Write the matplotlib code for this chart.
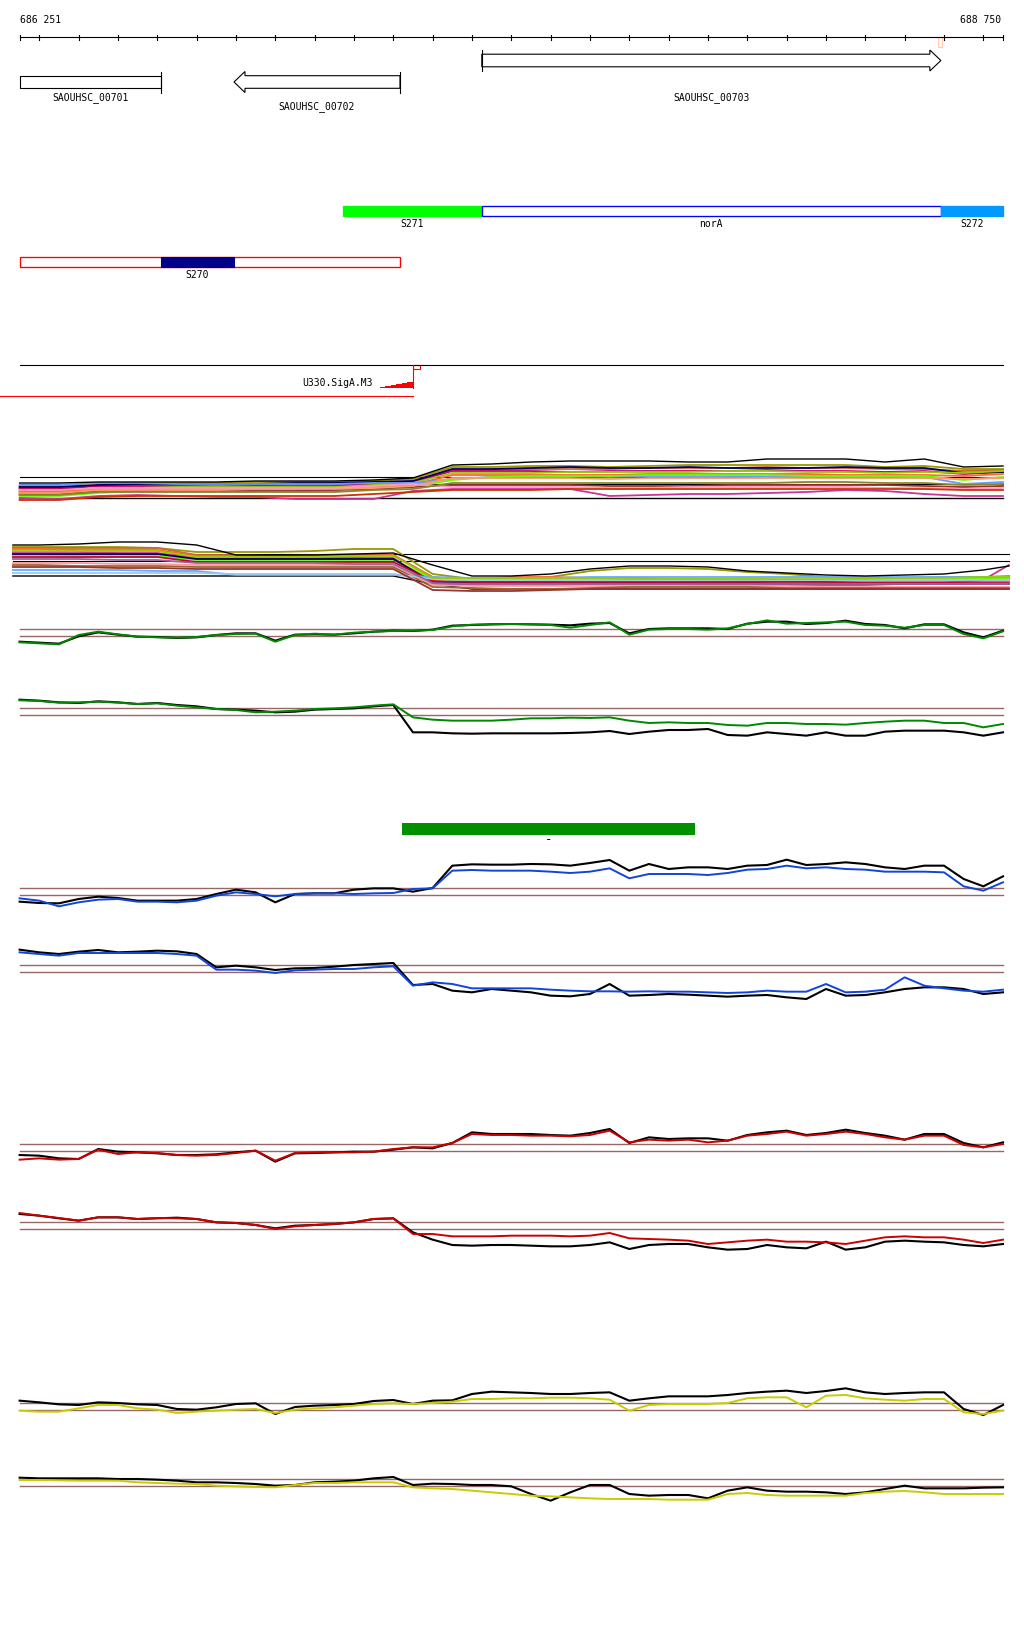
import matplotlib
matplotlib.use('Agg')
import matplotlib.pyplot as plt
from matplotlib.patches import Rectangle, Polygon

# ---- window ----
view_start = 686251
view_end = 688750
bp_per_px = (view_end - view_start) / 983.0
x_lo = view_start - 20 * bp_per_px
x_hi = view_start + 1004 * bp_per_px

# ---- genes ----
gene_names = ['SAOUHSC_00701', 'SAOUHSC_00702', 'SAOUHSC_00703']
gene_start = [686100, 686795, 687425]
gene_end = [686609, 687217, 688592]
gene_strand = [-1, -1, 1]

# ---- segments ----
seg_names = ['S271', 'norA', 'S272']
seg_start = [687072, 687425, 688592]
seg_end = [687425, 688592, 688750]
seg_fill = ['#00ff00', 'white', '#0099ff']
seg_edge = ['#00ff00', '#0000ff', '#0099ff']
s270_start, s270_end = 686251, 687217
s270_core = (686609, 686795)

# ---- promoter ----
prom_name = 'U330.SigA.M3'
prom_tss = 687250
motif_pos = [687151, 687165, 687179, 687194, 687208, 687222, 687236, 687250]
motif_score = [0.6, 1.6, 2.6, 3.6, 4.6, 5.6, 6.6]
region_bar = (687222, 687967)

# ---- profile grids ----
pos50 = list(range(686250, 688751, 50))
a_pos = list(range(686250, 688751, 100))
b_pos = [686233] + list(range(686300, 688701, 100)) + [688765]

g1_black = [-27,-30,-33,-11,1,-6,-12,-13,-16,-14,-7,-2,-2,-24,-6,-5,-6,-2,3,6,5,9,21,23,25,26,25,24,22,27,29,-2,11,13,13,13,11,27,33,33,26,29,36,26,23,13,25,25,1,-14,6]
g1_green = [-29,-32,-35,-7,3,-5,-12,-14,-15,-13,-7,-4,-3,-27,-7,-3,-6,0,3,5,6,8,19,24,25,26,25,23,15,23,31,-6,9,11,11,9,13,26,37,27,29,31,33,23,21,15,23,23,-4,-17,4]
g2_black = [34,31,26,24,29,26,21,24,18,14,6,4,1,-4,-2,4,6,8,14,18,-64,-64,-67,-68,-67,-67,-67,-67,-66,-64,-60,-69,-62,-57,-57,-54,-72,-74,-64,-69,-74,-64,-74,-74,-62,-59,-59,-59,-64,-74,-64]
g2_green = [32,30,25,26,28,25,21,23,16,11,6,3,-4,-2,1,6,8,11,16,20,-19,-26,-29,-29,-29,-26,-22,-22,-20,-21,-19,-29,-36,-34,-36,-36,-42,-44,-36,-36,-39,-39,-41,-36,-32,-29,-29,-36,-36,-49,-39]
b1_black = [-32,-36,-37,-24,-17,-21,-29,-29,-29,-24,-9,4,-4,-34,-9,-7,-7,4,8,8,-2,9,76,80,79,79,81,80,76,84,93,61,81,66,71,71,66,76,78,94,78,81,86,81,71,66,76,76,36,14,44]
b1_blue = [-22,-29,-46,-34,-26,-24,-32,-32,-34,-29,-14,-4,-9,-16,-9,-7,-7,-9,-7,-6,6,8,61,63,61,61,61,58,54,58,68,38,51,51,51,48,54,64,66,76,68,71,66,64,58,58,58,56,14,1,26]
b2_black = [55,47,42,49,54,47,49,52,50,42,2,7,2,-6,-1,0,4,9,12,15,-51,-48,-68,-73,-63,-68,-73,-83,-85,-78,-48,-83,-81,-78,-80,-83,-86,-83,-81,-88,-93,-63,-83,-81,-73,-63,-58,-58,-63,-78,-73]
b2_blue = [47,42,37,45,45,45,45,45,42,37,-5,-5,-8,-15,-7,-5,-3,-3,2,5,-53,-43,-48,-61,-61,-61,-61,-65,-68,-70,-70,-71,-70,-71,-71,-73,-75,-73,-68,-71,-71,-48,-73,-71,-65,-28,-53,-61,-68,-71,-65]
r1_black = [-22,-24,-32,-34,-4,-12,-14,-17,-22,-22,-20,-14,-9,-42,-17,-16,-14,-12,-12,-6,1,-2,14,46,41,41,41,38,36,44,56,14,31,26,28,28,21,38,46,51,38,44,54,44,36,24,41,41,14,1,16]
r1_red = [-36,-32,-36,-34,-6,-19,-14,-16,-22,-24,-22,-16,-9,-39,-16,-14,-14,-14,-12,-4,1,1,14,41,38,38,36,36,34,38,51,16,24,21,24,16,21,36,41,48,36,41,48,41,31,24,36,36,8,1,11]
r2_black = [33,28,20,13,23,23,18,20,22,18,8,6,0,-10,-2,0,3,8,18,20,-22,-44,-60,-62,-60,-60,-62,-64,-64,-60,-52,-72,-60,-57,-57,-67,-74,-72,-60,-67,-70,-50,-74,-67,-50,-47,-50,-52,-60,-64,-57]
r2_red = [36,28,21,13,23,23,18,21,20,18,8,6,0,-12,-4,0,3,8,18,20,-27,-27,-34,-34,-34,-32,-32,-32,-34,-32,-24,-40,-42,-44,-47,-57,-52,-47,-44,-50,-50,-52,-57,-47,-37,-34,-37,-37,-44,-54,-44]
y1_black = [16,11,5,3,11,9,5,3,-9,-11,-4,6,8,-24,-3,1,3,6,15,18,6,16,17,36,43,41,39,36,36,39,41,16,23,29,29,29,33,39,43,46,39,45,53,41,36,39,41,41,-9,-27,3]
y1_yellow = [-14,-17,-17,-7,3,3,-7,-11,-21,-17,-14,-11,-9,-21,-11,-7,-4,1,6,8,6,9,13,21,21,23,23,25,25,23,19,-14,3,6,6,6,9,23,26,26,-4,31,33,23,19,16,21,21,-19,-24,-14]
y2_black = [15,13,13,13,13,11,11,9,6,1,1,-1,-4,-9,-7,1,3,6,13,17,-7,-3,-4,-7,-7,-11,-34,-54,-29,-7,-7,-34,-39,-37,-37,-47,-24,-14,-24,-27,-27,-29,-34,-29,-19,-9,-17,-17,-17,-15,-14]
y2_yellow = [8,8,7,6,6,6,1,-1,-3,-4,-9,-11,-13,-14,-7,-1,-1,1,1,1,-14,-17,-19,-24,-29,-34,-39,-41,-44,-47,-49,-49,-49,-51,-51,-51,-34,-31,-37,-39,-39,-39,-39,-31,-27,-25,-29,-34,-34,-34,-34]

# multi-condition profiles (forward strand)
a_colors = ['#999900', '#cc6633', '#cc0066', '#000066', '#99cc00', '#ff6633', '#6699ff',
            '#66ff00', '#993333', '#ff9966', '#cc3399', '#ff99cc', '#cc3300', '#888822']
a_rows = [
    [-6,-6,-4,-3,-3,-3,-2,-2,-2,-1,1,13,13,14,14,13,14,15,15,15,15,15,13,14,11,11],
    [-8,-8,-5,-5,-5,-5,-5,-4,-4,-3,-1,10,10,11,11,11,12,12,12,13,12,12,11,11,9,10],
    [-9,-9,-6,-6,-6,-7,-6,-6,-6,-4,-2,9,9,9,8,9,9,9,9,10,9,9,8,9,6,8],
    [-7,-7,-5,-4,-4,-4,-4,-3,-3,-2,-1,11,11,12,13,12,12,13,12,12,12,13,12,12,7,8],
    [-11,-11,-8,-8,-7,-7,-7,-7,-7,-5,-3,7,7,7,8,8,8,8,9,9,8,8,7,8,7,9],
    [-12,-12,-9,-9,-9,-9,-9,-8,-8,-7,-5,5,5,5,5,5,6,6,6,6,6,5,5,5,4,6],
    [-5,-5,-3,-3,-4,-4,-4,-4,-4,-3,-3,1,3,4,4,3,4,4,4,3,4,4,4,3,-4,-2],
    [-16,-16,-13,-11,-11,-10,-10,-10,-10,-8,-7,0,3,4,4,4,5,5,5,5,4,4,4,4,0,3],
    [-14,-14,-11,-11,-11,-11,-11,-11,-10,-9,-7,-5,-5,-5,-5,-6,-6,-6,-5,-5,-5,-5,-5,-6,-7,-6],
    [-13,-13,-10,-10,-10,-10,-9,-9,-9,-8,-6,2,2,2,2,1,2,2,2,2,2,2,2,2,1,2],
    [-18,-19,-16,-15,-16,-17,-17,-19,-19,-19,-11,-9,-9,-9,-9,-16,-15,-14,-14,-13,-12,-10,-11,-14,-16,-16],
    [-10,-10,-8,-8,-8,-8,-8,-8,-8,-6,-4,-7,-7,-7,-7,-8,-8,-7,-7,-7,-7,-7,-8,-8,-9,-8],
    [-20,-20,-17,-16,-16,-16,-16,-16,-16,-14,-12,-10,-10,-10,-9,-9,-9,-9,-9,-9,-9,-9,-9,-9,-10,-10],
    [-15,-15,-12,-12,-12,-12,-12,-12,-12,-10,-9,-3,-3,-3,-3,-3,-3,-3,-3,-3,-2,-2,-3,-3,-5,-4],
]
a_black_top = [-3,-3,-2,-2,-2,-2,-1,-1,-1,0,2,15,16,18,19,19,19,18,18,21,21,21,18,21,13,14]
a_black_low = [-18,-18,-18,-18,-18,-18,-18,-18,-18,-18,-18,-18,-18,-18,-18,-18,-18,-18,-18,-18,-18,-18,-18,-18,-18,-18]

# multi-condition profiles (reverse strand)
b_colors = ['#999900', '#cc6633', '#ff6633', '#cc3399', '#66ff00', '#000066', '#cc0033',
            '#ff9999', '#996633', '#66aaff', '#99ccee', '#993333', '#99cc00', '#996699']
b_rows = [
    [10,10,10,10,9,5,5,5,6,8,8,-17,-22,-22,-20,-14,-11,-11,-12,-15,-17,-20,-21,-21,-20,-20,-19],
    [9,9,9,9,9,2,2,1,2,2,2,-20,-24,-24,-24,-22,-21,-22,-23,-24,-24,-25,-25,-25,-25,-24,-24],
    [8,8,7,7,7,1,1,1,1,1,2,-21,-22,-20,-20,-21,-22,-22,-22,-22,-24,-24,-24,-24,-23,-22,-22],
    [5,5,5,4,4,-1,-1,-1,-1,-1,-1,-27,-28,-28,-28,-27,-27,-27,-28,-28,-28,-28,-28,-27,-26,-23,-8],
    [2,2,1,1,1,-3,-3,-3,-3,-3,-3,-22,-23,-23,-23,-23,-23,-22,-22,-22,-23,-23,-23,-23,-22,-22,-22],
    [3,3,3,3,3,-2,-2,-2,-2,-2,-2,-25,-26,-26,-26,-26,-26,-26,-26,-26,-27,-27,-27,-27,-27,-27,-27],
    [0,0,0,0,0,-5,-5,-5,-5,-5,-5,-24,-25,-25,-25,-25,-25,-25,-25,-25,-25,-25,-26,-26,-26,-26,-26],
    [-6,-6,-6,-7,-7,-8,-8,-8,-8,-8,-8,-28,-29,-29,-29,-29,-29,-29,-29,-29,-29,-30,-30,-30,-30,-30,-30],
    [-8,-8,-9,-9,-9,-10,-10,-10,-10,-10,-10,-30,-31,-32,-32,-31,-30,-30,-30,-30,-31,-31,-31,-31,-31,-31,-31],
    [-13,-13,-13,-13,-14,-14,-18,-18,-18,-18,-18,-20,-21,-21,-21,-20,-20,-20,-20,-20,-20,-20,-20,-20,-20,-20,-20],
    [-16,-16,-16,-16,-16,-16,-17,-17,-17,-17,-17,-22,-23,-23,-23,-23,-23,-23,-23,-23,-23,-23,-23,-23,-23,-23,-23],
    [-10,-10,-10,-11,-11,-12,-12,-12,-12,-12,-12,-33,-34,-34,-33,-32,-32,-32,-32,-32,-32,-32,-32,-32,-32,-32,-32],
    [6,6,6,6,6,0,0,0,0,1,1,-21,-21,-21,-21,-21,-22,-22,-22,-22,-22,-22,-22,-21,-21,-20,-20],
    [-2,-2,-2,-3,-3,-6,-6,-6,-6,-7,-7,-26,-27,-27,-27,-27,-27,-27,-27,-27,-27,-27,-27,-27,-27,-27,-27],
]
b_black_top = [12,12,13,15,15,12,2,2,2,3,4,-8,-19,-19,-17,-12,-9,-9,-10,-14,-16,-18,-19,-18,-17,-13,-9]
b_black_low = [-19,-19,-19,-19,-19,-19,-19,-19,-19,-19,-19,-27,-32,-32,-32,-32,-32,-32,-32,-32,-32,-32,-32,-32,-32,-32,-32]

FIG_W, FIG_H = 1024, 1640
fig = plt.figure(figsize=(FIG_W / 100, FIG_H / 100), dpi=100)
ax = fig.add_axes([0, 0, 1, 1])
ax.set_xlim(x_lo, x_hi)
ax.set_ylim(FIG_H, 0)
ax.axis('off')

mono = 'DejaVu Sans Mono'
fs = 7
lw1 = 0.8

# ruler
ax.plot([view_start, view_end], [38, 38], color='black', lw=lw1)
ticks = [view_start] + list(range(686300, 688701, 100)) + [view_end]
for t in ticks:
    ax.plot([t, t], [35.5, 40.5], color='black', lw=lw1)
ax.text(view_start, 20, f'{view_start:,}'.replace(',', ' '), family=mono, fontsize=fs, ha='left', va='center')
ax.text(view_end - 2 * bp_per_px, 20, f'{view_end:,}'.replace(',', ' '), family=mono, fontsize=fs, ha='right', va='center')
ax.add_patch(Rectangle((688586, 38), 10, 10, fill=False, ec='#ffc8b8', lw=lw1))

# genes
head = 11 * bp_per_px
gene_rows = [83, 83, 61.5]
label_y = [97.7, 106.7, 97.7]
for name, s, e, st, yc, ly in zip(gene_names, gene_start, gene_end, gene_strand, gene_rows, label_y):
    bh, hh = 6.3, 10.5
    if s < view_start:
        xs = [view_start, e, e, view_start]
        ys = [yc - bh, yc - bh, yc + bh, yc + bh]
    elif st < 0:
        xs = [s, s + head, s + head, e, e, s + head, s + head]
        ys = [yc, yc - hh, yc - bh, yc - bh, yc + bh, yc + bh, yc + hh]
    else:
        xs = [s, e - head, e - head, e, e - head, e - head, s]
        ys = [yc - bh, yc - bh, yc - hh, yc, yc + hh, yc + bh, yc + bh]
    ax.add_patch(Polygon(list(zip(xs, ys)), closed=True, fill=False, ec='black', lw=lw1))
    tss = e if st < 0 else s
    ax.plot([tss, tss], [yc - hh, yc + hh], color='black', lw=lw1)
    lx = (max(s, view_start) + e) / 2
    ax.text(lx, ly, name, family=mono, fontsize=fs, ha='center', va='center')

# segments
for name, s, e, fc, ec in zip(seg_names, seg_start, seg_end, seg_fill, seg_edge):
    ax.add_patch(Rectangle((s, 207), e - s, 10, fc=fc, ec=ec, lw=lw1 * 1.2))
    ax.text((s + e) / 2, 224, name, family=mono, fontsize=fs, ha='center', va='center')
ax.add_patch(Rectangle((s270_start, 258), s270_end - s270_start, 10, fc='white', ec='#ff0000', lw=lw1 * 1.2))
ax.add_patch(Rectangle((s270_core[0], 258), s270_core[1] - s270_core[0], 10, fc='#000088', ec='#000088', lw=lw1))
ax.text(sum(s270_core) / 2, 274.7, 'S270', family=mono, fontsize=fs, ha='center', va='center')

# promoter
ax.plot([view_start, view_end], [366, 366], color='black', lw=lw1)
ax.fill_between(motif_pos, [389.3] * len(motif_pos), [389.3 - v for v in motif_score] + [389.3 - motif_score[-1]],
                step='post', color='#ff0000', lw=0)
ax.plot([prom_tss, prom_tss], [366, 389.3], color='#ff0000', lw=lw1)
ax.add_patch(Rectangle((prom_tss, 366), 7 * bp_per_px, 4, fill=False, ec='#ff0000', lw=lw1))
ax.plot([x_lo, prom_tss], [397, 397], color='#ff0000', lw=lw1)
ax.text(motif_pos[0] - 1 * bp_per_px, 383, prom_name, family=mono, fontsize=fs, ha='right', va='center')

# region bar
ax.add_patch(Rectangle((region_bar[0], 824), region_bar[1] - region_bar[0], 12, fc='#009000', ec='none'))
ax.text(sum(region_bar) / 2, 840, '-', family=mono, fontsize=9, ha='center', va='center')


def track_axes(center_px, half_px, units_per_px):
    ta = fig.add_axes([0, 1 - (center_px + half_px) / FIG_H, 1, 2 * half_px / FIG_H])
    ta.set_xlim(x_lo, x_hi)
    lim = half_px * units_per_px
    ta.set_ylim(-lim, lim)
    ta.axis('off')
    ta.patch.set_alpha(0)
    return ta


# multi-condition tracks
ta = track_axes(481, 40, 1)
for r in (3.5, -3.5):
    ta.plot([view_start, view_end], [r, r], color='black', lw=lw1)
ta.plot(a_pos, a_black_low, color='black', lw=1.0)
for c, row in zip(a_colors, a_rows):
    ta.plot(a_pos, row, color=c, lw=1.3)
ta.plot(a_pos, a_black_top, color='black', lw=1.0)

tb = track_axes(558, 40, 1)
for r in (3, -4):
    tb.plot([b_pos[0], b_pos[-1]], [r, r], color='black', lw=lw1)
tb.plot(b_pos, b_black_low, color='black', lw=1.0)
for c, row in zip(b_colors, b_rows):
    tb.plot(b_pos, row, color=c, lw=1.3)
tb.plot(b_pos, b_black_top, color='black', lw=1.0)

# condition tracks
ref_col = '#996666'
tracks = [
    (633.67, g1_black, g1_green, '#008800'),
    (712.0, g2_black, g2_green, '#008800'),
    (892.0, b1_black, b1_blue, '#1144dd'),
    (969.0, b2_black, b2_blue, '#1144dd'),
    (1148.67, r1_black, r1_red, '#cc0000'),
    (1226.0, r2_black, r2_red, '#cc0000'),
    (1407.0, y1_black, y1_yellow, '#c8cc00'),
    (1483.67, y2_black, y2_yellow, '#c8cc00'),
]
for center, blk, col_vals, col in tracks:
    t = track_axes(center, 45, 3)
    for r in (10.5, -10.5):
        t.plot([view_start, view_end], [r, r], color=ref_col, lw=1.0)
    t.plot(pos50, blk, color='black', lw=1.5)
    t.plot(pos50, col_vals, color=col, lw=1.4)

fig.savefig('out.png', dpi=100)
